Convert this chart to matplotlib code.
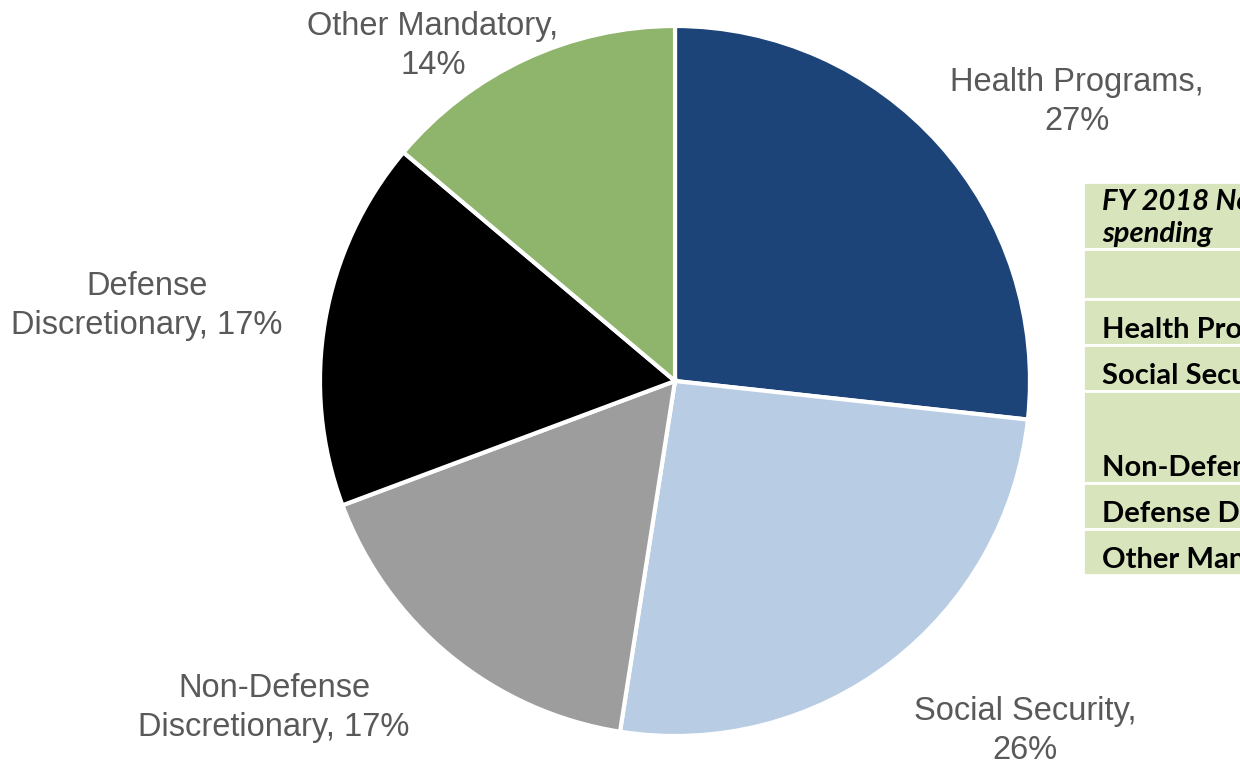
import matplotlib.pyplot as plt
from matplotlib.patches import Rectangle

# FY 2018 spending shares (percent)
categories = ['Health Programs', 'Social Security', 'Non-Defense\nDiscretionary',
              'Defense\nDiscretionary', 'Other Mandatory']
shares = [27, 26, 17, 17, 14]
colors = ['#1d4479', '#b8cce4', '#9d9d9d', '#000000', '#8fb46b']

# side table rows (text, row height in px)
table_rows = ['FY 2018 Non-interest\nspending', '', 'Health Programs', 'Social Security',
              'Non-Defense Discretionary', 'Defense Discretionary', 'Other Mandatory']
row_heights = [67, 50, 46, 46, 92, 46, 46]

W, H = 1240, 768
fig = plt.figure(figsize=(W / 100, H / 100), dpi=100)
ax = fig.add_axes([0, 0, 1, 1])

wedges, _ = ax.pie(shares, colors=colors, startangle=90, counterclock=False,
                   center=(675, H - 381), radius=355,
                   wedgeprops=dict(edgecolor='white', linewidth=3))
ax.set_xlim(0, W)
ax.set_ylim(0, H)
ax.set_aspect('equal')
ax.axis('off')

# pie labels
label_text = [
    'Health Programs,\n27%',
    'Social Security,\n26%',
    'Non-Defense\nDiscretionary, 17%',
    'Defense\nDiscretionary, 17%',
    'Other Mandatory,\n14%',
]
label_pos = [(1077, 102), (1025, 731), (274, 708), (147, 306), (433, 46)]
for txt, (x, y) in zip(label_text, label_pos):
    ax.text(x, H - y, txt, ha='center', va='center', fontsize=23.5,
            color='#595959', family='Liberation Sans', linespacing=1.3)

# table on the right, runs past the figure edge
x0, top = 1083, 182
y = top
for i, (txt, h) in enumerate(zip(table_rows, row_heights)):
    ax.add_patch(Rectangle((x0, H - y - h), 400, h, facecolor='#d8e4bc',
                           edgecolor='white', linewidth=2, clip_on=False))
    if txt:
        if i == 0:
            ax.text(x0 + 19, H - y - 7, txt, ha='left', va='top', fontsize=21,
                    fontweight='bold', style='italic', family='Lato',
                    linespacing=1.3, clip_on=False)
        else:
            ax.text(x0 + 19, H - y - h + 7, txt, ha='left', va='baseline',
                    fontsize=21, fontweight='bold', family='Lato', clip_on=False)
    y += h

fig.savefig('out.png', dpi=100)
